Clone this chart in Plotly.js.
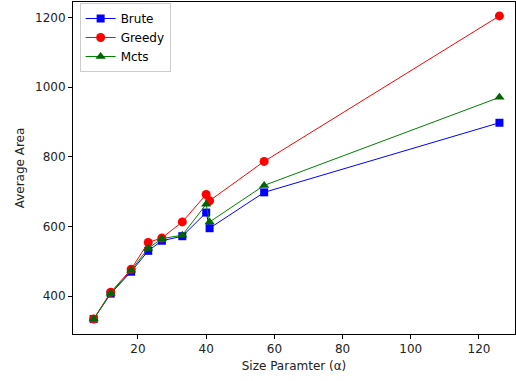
<!DOCTYPE html>
<html><head><meta charset="utf-8">
<script src="https://cdn.plot.ly/plotly-3.0.1.min.js"></script>
<style>html,body{margin:0;padding:0;background:#fff;}#chart{width:516px;height:381px;}</style>
</head><body><div id="chart"></div>
<script>
const sizes = [7, 12, 18, 23, 27, 33, 40, 41, 57, 126];
const brute = [334, 407, 470, 530, 559, 572, 640, 595, 698, 898];
const greedy = [334, 411, 477, 554, 567, 613, 692, 674, 787, 1205];
const mcts = [334, 408, 474, 537, 565, 575, 664, 613, 718, 971];

const font = {family: 'DejaVu Sans, sans-serif', size: 12, color: '#222'};
const traces = [
  {name: 'Brute', x: sizes, y: brute, mode: 'lines+markers', line: {color: 'blue', width: 1}, marker: {symbol: 'square', size: 8, color: 'blue'}},
  {name: 'Greedy', x: sizes, y: greedy, mode: 'lines+markers', line: {color: 'red', width: 1}, marker: {symbol: 'circle', size: 9, color: 'red'}},
  {name: 'Mcts', x: sizes, y: mcts, mode: 'lines+markers', line: {color: 'green', width: 1}, marker: {symbol: 'triangle-up', size: 9, color: 'darkgreen'}}
];
const layout = {
  width: 516, height: 381,
  margin: {l: 73, r: 1, t: 2, b: 47},
  paper_bgcolor: '#fff', plot_bgcolor: '#fff',
  font: font,
  showlegend: true,
  legend: {x: 0.015, y: 0.997, xanchor: 'left', yanchor: 'top', bgcolor: 'rgba(255,255,255,0.8)', bordercolor: '#ccc', borderwidth: 1, font: {family: 'DejaVu Sans, sans-serif', size: 12, color: '#000'}, tracegroupgap: 0},
  xaxis: {range: [0.94, 130.56], tickvals: [20, 40, 60, 80, 100, 120], ticks: 'outside', ticklen: 4, tickcolor: '#000', showgrid: false, zeroline: false, showline: true, mirror: true, linecolor: '#000', linewidth: 1, title: {text: 'Size Paramter (α)', font: {size: 12}, standoff: 6}},
  yaxis: {range: [291, 1245], tickvals: [400, 600, 800, 1000, 1200], ticks: 'outside', ticklen: 4, tickcolor: '#000', showgrid: false, zeroline: false, showline: true, mirror: true, linecolor: '#000', linewidth: 1, title: {text: 'Average Area', font: {size: 12}, standoff: 7}}
};
Plotly.newPlot('chart', traces, layout, {displayModeBar: false, staticPlot: true});
</script></body></html>
